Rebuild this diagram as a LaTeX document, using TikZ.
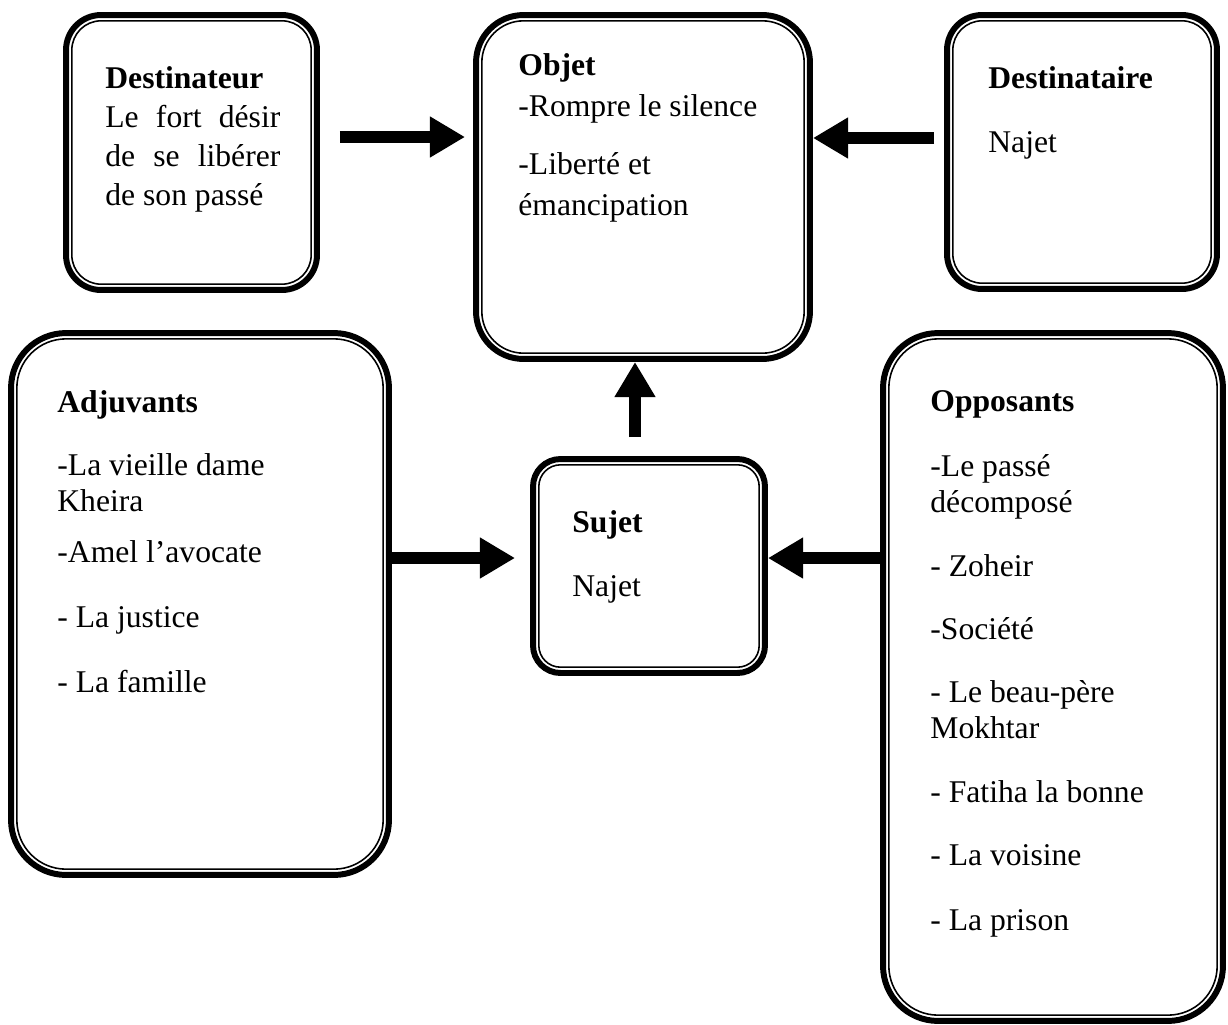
\documentclass[tikz,border=0pt]{standalone}
\usepackage{fontspec}
\setmainfont{Liberation Serif}
\usetikzlibrary{arrows.meta}
\tikzset{
  actant/.style={draw, line width=3.4pt, rounded corners=#1, inner sep=0pt,
    path picture={\draw[line width=0.9pt, rounded corners=#1-3.3pt]
      ([shift={(3.3pt,-3.3pt)}]path picture bounding box.north west) rectangle
      ([shift={(-3.3pt,3.3pt)}]path picture bounding box.south east);}},
  actant/.default=0.7cm,
  txt/.style={inner sep=0pt, anchor=north west, align=left,
    font=\fontsize{18}{20.5}\selectfont},
  bigarrow/.style={line width=7pt, -{Triangle[length=20pt,width=22pt]}},
}
\begin{document}
\begin{tikzpicture}[x=0.02cm,y=-0.02cm]
\useasboundingbox (0,0) rectangle (1228,1025);
% boxes
\node[actant, minimum width=5.02cm, minimum height=5.5cm] (dest) at (191.5,152.5) {};
\node[actant=0.95cm, minimum width=6.68cm, minimum height=6.88cm] (objet) at (643,187) {};
\node[actant, minimum width=5.4cm, minimum height=5.48cm] (destinataire) at (1082,152) {};
\node[actant=1.1cm, minimum width=7.56cm, minimum height=10.84cm] (adjuvants) at (200,604) {};
\node[actant=0.55cm, minimum width=4.64cm, minimum height=4.28cm] (sujet) at (649,566) {};
\node[actant=1.1cm, minimum width=6.8cm, minimum height=13.76cm] (opposants) at (1053,677) {};
% texts
\node[txt, font=\fontsize{18}{22.2}\selectfont] (destT) at ([shift={(42,54)}]dest.north west)
  {\textbf{Destinateur}\\ \makebox[3.5cm][s]{Le fort désir}\\ \makebox[3.5cm][s]{de se libérer}\\ de son passé};
\node[txt, font=\fontsize{18}{23.3}\selectfont] (objetT) at ([shift={(45,41)}]objet.north west)
  {\textbf{Objet}\\ -Rompre le silence\\[10pt] -Liberté et\\ émancipation};
\node[txt] (destinataireT) at ([shift={(44,54)}]destinataire.north west)
  {\textbf{Destinataire}\\[16pt] Najet};
\node[txt, font=\fontsize{18}{21}\selectfont] (adjuvantsT) at ([shift={(49,60)}]adjuvants.north west)
  {\textbf{Adjuvants}\\[14.7pt] -La vieille dame\\ Kheira\\[8pt] -Amel l’avocate\\[16pt] - La justice\\[16pt] - La famille};
\node[txt] (sujetT) at ([shift={(42,54)}]sujet.north west)
  {\textbf{Sujet}\\[16pt] Najet};
\node[txt] (opposantsT) at ([shift={(50,60)}]opposants.north west)
  {\textbf{Opposants}\\[16.5pt] -Le passé\\ décomposé\\[16pt] - Zoheir\\[15.5pt] -Société\\[15pt] - Le beau-père\\ Mokhtar\\[16pt] - Fatiha la bonne\\[15.5pt] - La voisine\\[16.5pt] - La prison};
% arrows
\coordinate (a1) at ([yshift=0.31cm]dest.east);
\draw[bigarrow, shorten <=0.4cm, shorten >=0.16cm] (a1) -- (a1 -| objet.west);
\coordinate (a2) at ([yshift=0.28cm]destinataire.west);
\draw[bigarrow, shorten <=0.2cm] (a2) -- (a2 -| objet.east);
\coordinate (a3) at ([xshift=-0.28cm]sujet.north);
\draw[bigarrow, shorten <=0.38cm] (a3) -- (a3 |- objet.south);
\coordinate (a4) at ([yshift=0.92cm]adjuvants.east);
\draw[bigarrow, shorten >=0.3cm] (a4) -- (a4 -| sujet.west);
\coordinate (a5) at ([yshift=2.38cm]opposants.west);
\draw[bigarrow] (a5) -- (a5 -| sujet.east);
\end{tikzpicture}
\end{document}
